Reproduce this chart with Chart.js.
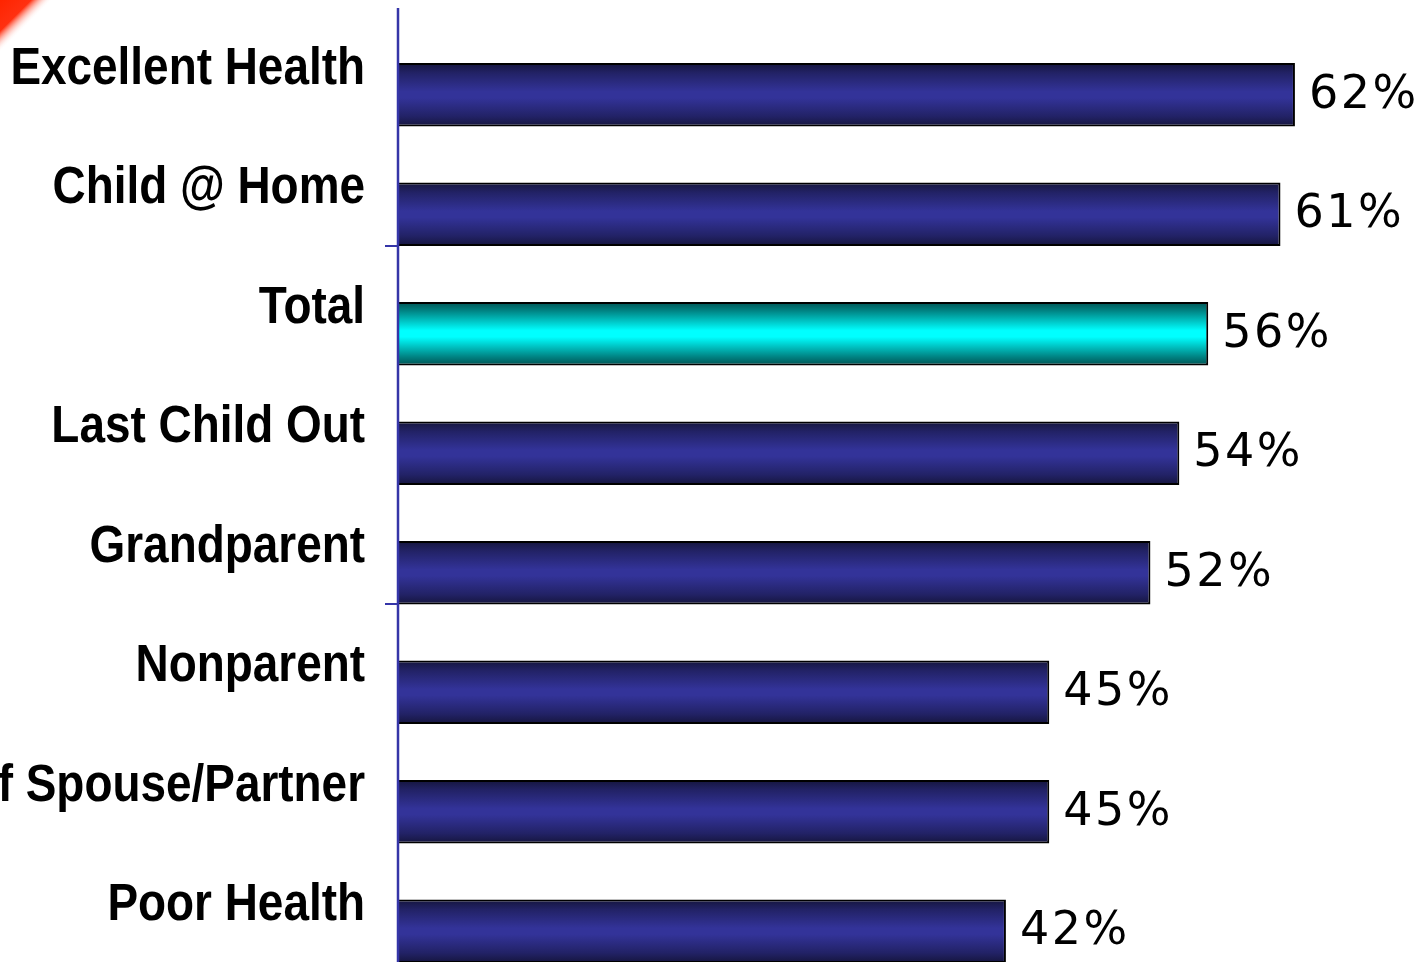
<!DOCTYPE html>
<html>
<head>
<meta charset="utf-8">
<script src="https://cdn.jsdelivr.net/npm/chart.js@4.4.1/dist/chart.umd.min.js"></script>
<style>
  html, body { margin: 0; padding: 0; background: #ffffff; overflow: hidden; }
  #wrap { position: absolute; left: 0; top: 0; width: 1425px; height: 962px; overflow: hidden; }
  canvas { display: block; }
</style>
</head>
<body>
<div id="wrap"><canvas id="c" width="1425" height="991"></canvas></div>
<script>
// ---- data ----
const categories = ['Excellent Health', 'Child @ Home', 'Total', 'Last Child Out', 'Grandparent', 'Nonparent', 'Loss of Spouse/Partner', 'Poor Health'];
const values = [62, 61, 56, 54, 52, 45, 45, 42];
const highlightCategory = 'Total';
const valueSuffix = '%';

// ---- styles ----
const AXIS_BLUE = '#3535a8';
function barFill(ctx) {
  const chart = ctx.chart;
  const yScale = chart.scales.y;
  const isHi = categories[ctx.dataIndex] === highlightCategory;
  if (!chart.chartArea || !yScale) return isHi ? '#00ffff' : '#333399';
  const yc = yScale.getPixelForValue(ctx.dataIndex);
  const h = 31;
  const g = chart.ctx.createLinearGradient(0, yc - h, 0, yc + h);
  if (isHi) {
    g.addColorStop(0, '#005656');
    g.addColorStop(0.12, '#008080');
    g.addColorStop(0.45, '#00ffff');
    g.addColorStop(0.55, '#00ffff');
    g.addColorStop(0.88, '#008080');
    g.addColorStop(1, '#005656');
  } else {
    g.addColorStop(0, '#161640');
    g.addColorStop(0.15, '#222266');
    g.addColorStop(0.45, '#333399');
    g.addColorStop(0.55, '#333399');
    g.addColorStop(0.85, '#222266');
    g.addColorStop(1, '#161640');
  }
  return g;
}

const decorPlugin = {
  id: 'decor',
  beforeDraw(chart) {
    const c = chart.ctx;
    c.save();
    const g = c.createLinearGradient(0, 0, 26, 26);
    g.addColorStop(0, '#ff2400');
    g.addColorStop(0.6, '#ff3010');
    g.addColorStop(1, 'rgba(255,255,255,0)');
    c.fillStyle = g;
    c.beginPath();
    c.moveTo(0, 0); c.lineTo(70, 0); c.lineTo(0, 70); c.closePath();
    c.fill();
    c.restore();
  },
  afterDatasetsDraw(chart) {
    const c = chart.ctx;
    const area = chart.chartArea;
    const meta = chart.getDatasetMeta(0);
    c.save();
    // axis line
    c.strokeStyle = AXIS_BLUE;
    c.lineWidth = 2.5;
    c.beginPath();
    c.moveTo(area.left - 1, 8);
    c.lineTo(area.left - 1, chart.height);
    c.stroke();
    // tick marks at bottom of bars 2 and 5
    c.lineWidth = 2;
    [1, 4].forEach(i => {
      const el = meta.data[i];
      const yb = Math.round(el.y + el.height / 2);
      c.beginPath();
      c.moveTo(area.left - 14, yb);
      c.lineTo(area.left - 1, yb);
      c.stroke();
    });
    // value labels
    c.fillStyle = '#000000';
    c.font = '46px "DejaVu Sans", Verdana, sans-serif';
    c.textAlign = 'left';
    c.textBaseline = 'alphabetic';
    if ('letterSpacing' in c) c.letterSpacing = '2.5px';
    meta.data.forEach((el, i) => {
      c.fillText(values[i] + valueSuffix, el.x + 14, el.y + 13);
    });
    if ('letterSpacing' in c) c.letterSpacing = '0px';
    // category labels (condensed bold)
    c.font = 'bold 51px "Liberation Sans", Arial, sans-serif';
    c.textAlign = 'right';
    const sx = 0.9;
    meta.data.forEach((el, i) => {
      c.save();
      c.translate(365, el.y - 11);
      c.scale(sx, 1);
      c.fillText(categories[i], 0, 0);
      c.restore();
    });
    c.restore();
  }
};

new Chart(document.getElementById('c'), {
  type: 'bar',
  data: {
    labels: categories,
    datasets: [{
      data: values,
      backgroundColor: barFill,
      borderColor: '#000000',
      borderWidth: 2,
      borderSkipped: 'start',
      barPercentage: 0.53,
      categoryPercentage: 1.0
    }]
  },
  options: {
    indexAxis: 'y',
    responsive: false,
    animation: false,
    devicePixelRatio: 1,
    layout: { padding: { left: 399, right: 0, top: 35, bottom: 0 } },
    plugins: { legend: { display: false }, tooltip: { enabled: false } },
    scales: {
      x: { display: false, min: 0, max: 71 },
      y: { display: false, offset: true }
    }
  },
  plugins: [decorPlugin]
});
</script>
</body>
</html>
